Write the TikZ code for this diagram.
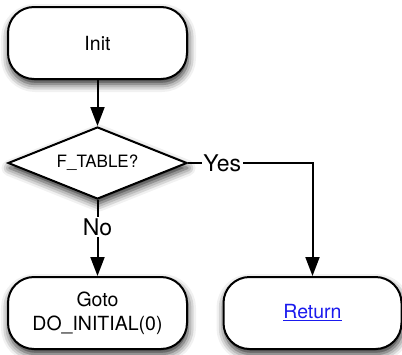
\documentclass[tikz,border=0pt]{standalone}
\usepackage{fontspec}
\setmainfont{TeX Gyre Heros}
\usetikzlibrary{shapes.geometric,arrows.meta,shadows.blur}
\definecolor{linkblue}{RGB}{26,26,238}
\begin{document}
\begin{tikzpicture}[x=1pt,y=-1pt,
  soft/.style={blur shadow={shadow xshift=1pt, shadow yshift=-5pt,
      shadow blur radius=8pt, shadow opacity=85}},
  box/.style={draw, line width=2pt, fill=white, rounded corners=26pt,
      minimum width=179pt, minimum height=72pt, align=center,
      font=\fontsize{19.5}{24}\selectfont, soft},
  decision/.style={draw, line width=2pt, fill=white, diamond, aspect=2.49,
      minimum width=179pt, minimum height=72pt, inner sep=0pt,
      font=\fontsize{17}{20}\selectfont, soft},
  flow/.style={line width=2pt, -{Triangle[width=14pt,length=19pt]}},
  lbl/.style={fill=white, inner sep=1.5pt, font=\fontsize{23}{26}\selectfont}
]
\useasboundingbox (0,0) rectangle (402,354);

\node[box] (init) at (97.5,43) {Init};
\node[decision] (dec) at (97.5,163) {F\_TABLE?};
\node[box] (goto) at (97.5,313) {Goto\\DO\_INITIAL(0)};
\node[box, minimum width=178pt] (ret) at (312.5,313)
  {\textcolor{linkblue}{\underline{Return}}};

\draw[flow] (init) -- (dec);
\draw[flow] (dec.south) -- node[lbl, pos=0.36] {No} (goto.north);
\draw[flow] (dec.east) -- node[lbl, pos=0.275] {Yes} (dec.east -| ret.north)
  -- (ret.north);
\end{tikzpicture}
\end{document}
